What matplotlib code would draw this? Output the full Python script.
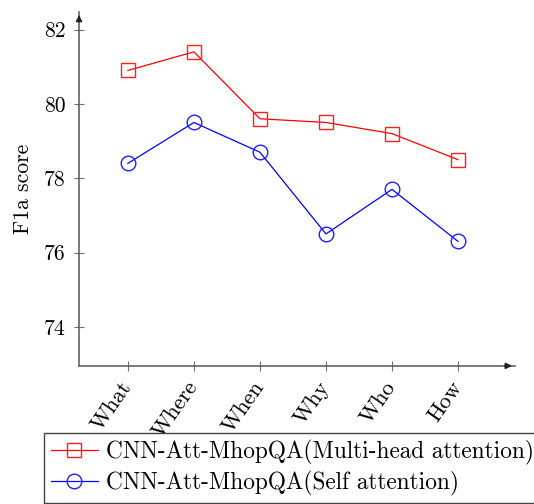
import matplotlib
matplotlib.use("Agg")
import matplotlib.pyplot as plt
import numpy as np

# question types on the x axis
categories = ["What", "Where", "When", "Why", "Who", "How"]
# F1a score per model
multi_head = [80.9, 81.4, 79.6, 79.5, 79.2, 78.5]
self_att = [78.4, 79.5, 78.7, 76.5, 77.7, 76.3]
yticks = [74, 76, 78, 80, 82]

plt.rcParams["font.family"] = ["cmr10", "DejaVu Serif"]
plt.rcParams["axes.formatter.use_mathtext"] = True

fig = plt.figure(figsize=(5.34, 5.04), dpi=100)
ax = fig.add_axes([0.148, 0.274, 0.816, 0.702])

x = np.arange(len(categories))
l1, = ax.plot(x, multi_head, color="#ff0000", lw=0.9, marker="s", ms=10.5,
              mfc="none", mec="#ff2020", mew=1.0,
              label="CNN-Att-MhopQA(Multi-head attention)")
l2, = ax.plot(x, self_att, color="#0000ff", lw=0.9, marker="o", ms=10.5,
              mfc="none", mec="#2020ff", mew=1.0,
              label="CNN-Att-MhopQA(Self attention)")

ax.set_xlim(-0.74, 5.86)
ax.set_ylim(72.95, 82.47)
ax.set_xticks(x)
ax.set_xticklabels(categories, rotation=55, ha="right", va="center",
                   rotation_mode="anchor", fontsize=16.2)
ax.set_yticks(yticks)
ax.set_yticklabels([str(v) for v in yticks], fontsize=15.6)
ax.tick_params(direction="inout", length=7, width=0.8, color="#707070")
ax.tick_params(axis="y", pad=6)
ax.tick_params(axis="x", pad=9)
ax.set_ylabel("F1a score", fontsize=15.6)
ax.yaxis.set_label_coords(-0.105, 0.5)

for s in ("top", "right"):
    ax.spines[s].set_visible(False)
for s in ("left", "bottom"):
    ax.spines[s].set_color("#555555")
    ax.spines[s].set_linewidth(1.1)

# arrow heads on both axes
ax.annotate("", xy=(1.0, 0), xytext=(0.97, 0), xycoords="axes fraction",
            arrowprops=dict(arrowstyle="-|>", color="#222222", lw=1.1,
                            mutation_scale=9))
ax.annotate("", xy=(0, 1.0), xytext=(0, 0.97), xycoords="axes fraction",
            arrowprops=dict(arrowstyle="-|>", color="#222222", lw=1.1,
                            mutation_scale=9))

leg = fig.legend(handles=[l1, l2], loc="upper left",
                 bbox_to_anchor=(44 / 534, 1 - 433 / 504),
                 fontsize=16.8, frameon=True, fancybox=False, framealpha=1,
                 edgecolor="#444444", handlelength=2.0, handletextpad=0.35,
                 borderpad=0.3, labelspacing=0.25, borderaxespad=0)
leg.get_frame().set_linewidth(1.0)

fig.savefig("out.png", dpi=100)
